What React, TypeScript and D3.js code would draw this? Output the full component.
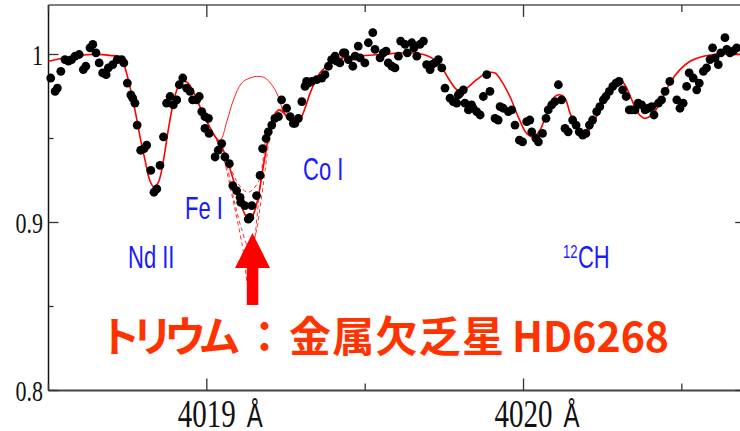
import React from 'react'
import * as d3 from 'd3'

// observed spectrum (wavelength Å, normalized flux)
const observed: [number, number][] = [
  [4018.507, 0.986], [4018.521, 0.978], [4018.528, 0.980], [4018.539, 0.990], [4018.552, 0.997],
  [4018.563, 0.996], [4018.573, 0.997], [4018.584, 0.999], [4018.597, 1.000], [4018.610, 0.991],
  [4018.618, 0.993], [4018.631, 1.004], [4018.640, 1.006], [4018.650, 1.001], [4018.660, 0.995],
  [4018.671, 0.989], [4018.682, 0.988], [4018.689, 0.992], [4018.703, 0.994], [4018.717, 0.997],
  [4018.731, 0.997], [4018.738, 0.995], [4018.749, 0.983], [4018.760, 0.976], [4018.766, 0.974],
  [4018.773, 0.971], [4018.780, 0.958], [4018.791, 0.943], [4018.802, 0.944], [4018.810, 0.946],
  [4018.823, 0.931], [4018.833, 0.918], [4018.842, 0.920], [4018.852, 0.934], [4018.863, 0.951],
  [4018.873, 0.971], [4018.884, 0.975], [4018.894, 0.970], [4018.905, 0.973], [4018.913, 0.982],
  [4018.924, 0.986], [4018.936, 0.980], [4018.947, 0.978], [4018.955, 0.973], [4018.968, 0.973],
  [4018.976, 0.975], [4018.984, 0.966], [4018.994, 0.963], [4019.005, 0.962], [4018.994, 0.956],
  [4019.007, 0.953], [4019.026, 0.939], [4019.036, 0.943], [4019.047, 0.947], [4019.057, 0.939],
  [4019.071, 0.935], [4019.082, 0.922], [4019.094, 0.919], [4019.105, 0.915], [4019.107, 0.912],
  [4019.120, 0.910], [4019.131, 0.902], [4019.136, 0.903], [4019.142, 0.910], [4019.157, 0.916],
  [4019.168, 0.928], [4019.176, 0.944], [4019.187, 0.950], [4019.194, 0.954], [4019.205, 0.958],
  [4019.215, 0.962], [4019.226, 0.963], [4019.236, 0.973], [4019.252, 0.968], [4019.263, 0.963],
  [4019.273, 0.959], [4019.278, 0.959], [4019.289, 0.962], [4019.300, 0.972], [4019.310, 0.981],
  [4019.315, 0.984], [4019.320, 0.983], [4019.331, 0.984], [4019.347, 0.985], [4019.363, 0.986],
  [4019.373, 0.988], [4019.384, 0.993], [4019.394, 0.997], [4019.405, 0.999], [4019.410, 0.996],
  [4019.420, 0.995], [4019.431, 1.001], [4019.436, 1.001], [4019.447, 0.997], [4019.461, 0.993],
  [4019.468, 0.999], [4019.478, 1.005], [4019.484, 0.998], [4019.499, 0.995], [4019.510, 1.007],
  [4019.524, 1.013], [4019.531, 1.003], [4019.547, 0.998], [4019.557, 1.001], [4019.566, 1.002],
  [4019.573, 0.995], [4019.584, 0.993], [4019.594, 0.992], [4019.605, 0.999], [4019.612, 1.008],
  [4019.626, 1.006], [4019.633, 1.001], [4019.647, 1.007], [4019.654, 1.004], [4019.663, 0.999],
  [4019.673, 1.006], [4019.684, 1.008], [4019.694, 0.994], [4019.705, 0.991], [4019.710, 0.994],
  [4019.720, 0.995], [4019.731, 0.997], [4019.742, 0.992], [4019.752, 0.980], [4019.768, 0.974],
  [4019.778, 0.972], [4019.789, 0.971], [4019.794, 0.976], [4019.799, 0.977], [4019.810, 0.979],
  [4019.815, 0.971], [4019.826, 0.967], [4019.836, 0.970], [4019.841, 0.968], [4019.852, 0.966],
  [4019.863, 0.964], [4019.873, 0.975], [4019.884, 0.988], [4019.894, 0.978], [4019.910, 0.962],
  [4019.920, 0.961], [4019.926, 0.969], [4019.936, 0.968], [4019.952, 0.966], [4019.963, 0.967],
  [4019.973, 0.958], [4019.987, 0.949], [4019.997, 0.948], [4020.010, 0.960], [4020.020, 0.961],
  [4020.026, 0.954], [4020.039, 0.950], [4020.047, 0.948], [4020.060, 0.953], [4020.071, 0.962],
  [4020.078, 0.967], [4020.089, 0.970], [4020.099, 0.972], [4020.110, 0.982], [4020.120, 0.973],
  [4020.131, 0.956], [4020.141, 0.954], [4020.155, 0.961], [4020.166, 0.958], [4020.176, 0.954],
  [4020.187, 0.952], [4020.197, 0.953], [4020.208, 0.958], [4020.218, 0.961], [4020.231, 0.966],
  [4020.241, 0.969], [4020.252, 0.973], [4020.260, 0.975], [4020.271, 0.978], [4020.282, 0.981],
  [4020.292, 0.983], [4020.302, 0.984], [4020.313, 0.979], [4020.324, 0.975], [4020.334, 0.967],
  [4020.342, 0.967], [4020.352, 0.967], [4020.362, 0.971], [4020.373, 0.970], [4020.384, 0.967],
  [4020.394, 0.968], [4020.405, 0.969], [4020.412, 0.964], [4020.426, 0.971], [4020.436, 0.973],
  [4020.447, 0.978], [4020.462, 0.984], [4020.484, 0.973], [4020.494, 0.968], [4020.504, 0.971],
  [4020.515, 0.981], [4020.523, 0.989], [4020.536, 0.986], [4020.547, 0.979], [4020.555, 0.983],
  [4020.568, 0.990], [4020.578, 0.992], [4020.589, 0.997], [4020.597, 1.004], [4020.605, 0.998],
  [4020.615, 0.994], [4020.623, 1.001], [4020.636, 1.010], [4020.642, 1.003], [4020.652, 1.001],
  [4020.662, 1.002], [4020.673, 1.004],
]

// best-fit synthetic spectrum
const synthetic: [number, number][] = [
  [4018.500, 0.996], [4018.568, 0.9985], [4018.631, 1.000], [4018.694, 0.9995], [4018.731, 0.998],
  [4018.742, 0.992], [4018.757, 0.981], [4018.773, 0.967], [4018.789, 0.951], [4018.805, 0.937],
  [4018.820, 0.925], [4018.833, 0.921], [4018.847, 0.924], [4018.863, 0.937], [4018.878, 0.955],
  [4018.894, 0.971], [4018.910, 0.981], [4018.926, 0.984], [4018.941, 0.983], [4018.957, 0.978],
  [4018.978, 0.969], [4019.000, 0.960], [4019.020, 0.953], [4019.052, 0.943], [4019.073, 0.932],
  [4019.094, 0.919], [4019.115, 0.907], [4019.131, 0.902], [4019.147, 0.905], [4019.162, 0.915],
  [4019.178, 0.933], [4019.189, 0.945], [4019.199, 0.957], [4019.210, 0.963], [4019.226, 0.967],
  [4019.241, 0.966], [4019.252, 0.963], [4019.268, 0.960], [4019.278, 0.958], [4019.294, 0.961],
  [4019.310, 0.968], [4019.326, 0.977], [4019.342, 0.984], [4019.357, 0.989], [4019.378, 0.993],
  [4019.399, 0.997], [4019.431, 0.998], [4019.473, 0.999], [4019.547, 1.000], [4019.641, 1.001],
  [4019.684, 1.000], [4019.710, 0.998], [4019.736, 0.994], [4019.762, 0.986], [4019.784, 0.980],
  [4019.799, 0.978], [4019.821, 0.980], [4019.852, 0.985], [4019.884, 0.989], [4019.910, 0.989],
  [4019.931, 0.984], [4019.957, 0.975], [4019.983, 0.963], [4020.010, 0.953], [4020.031, 0.951],
  [4020.052, 0.955], [4020.073, 0.965], [4020.099, 0.975], [4020.115, 0.976], [4020.131, 0.974],
  [4020.147, 0.965], [4020.168, 0.957], [4020.191, 0.952], [4020.210, 0.956], [4020.241, 0.967],
  [4020.273, 0.979], [4020.299, 0.986], [4020.320, 0.982], [4020.342, 0.973], [4020.362, 0.965],
  [4020.384, 0.962], [4020.410, 0.965], [4020.436, 0.973], [4020.462, 0.983], [4020.494, 0.991],
  [4020.526, 0.996], [4020.568, 0.999], [4020.610, 1.000], [4020.700, 1.000],
]

// synthetic without Th
const noThorium: [number, number][] = [
  [4019.000, 0.960], [4019.020, 0.953], [4019.042, 0.949], [4019.063, 0.960], [4019.084, 0.973],
  [4019.110, 0.983], [4019.136, 0.986], [4019.162, 0.987], [4019.184, 0.986], [4019.205, 0.982],
  [4019.221, 0.977], [4019.231, 0.972], [4019.241, 0.966], [4019.252, 0.963], [4019.268, 0.960],
]

// Th abundance variants (dashed)
const thLow: [number, number][] = [
  [4019.000, 0.960], [4019.020, 0.953], [4019.052, 0.944], [4019.099, 0.923], [4019.131, 0.918],
  [4019.162, 0.924], [4019.184, 0.941], [4019.199, 0.954], [4019.215, 0.962], [4019.231, 0.967],
  [4019.252, 0.963], [4019.268, 0.960],
]
const thHigh: [number, number][] = [
  [4019.000, 0.960], [4019.020, 0.953], [4019.052, 0.942], [4019.084, 0.915], [4019.110, 0.896],
  [4019.131, 0.886], [4019.152, 0.892], [4019.168, 0.909], [4019.184, 0.931], [4019.199, 0.951],
  [4019.215, 0.961], [4019.231, 0.966], [4019.252, 0.963], [4019.268, 0.960],
]
const thHigher: [number, number][] = [
  [4019.000, 0.960], [4019.020, 0.953], [4019.048, 0.941], [4019.083, 0.913], [4019.114, 0.884],
  [4019.130, 0.863], [4019.146, 0.881], [4019.162, 0.910], [4019.177, 0.937], [4019.196, 0.958],
  [4019.215, 0.963], [4019.234, 0.966], [4019.252, 0.963], [4019.268, 0.960],
]

const yMajor = [0.8, 0.9, 1.0]
const yMinor = [0.85, 0.95]
const yLabels = ['0.8', '0.9', '1']
const xMajor = [4019, 4020]
const xMinor = [4018.5, 4019.5, 4020.5]

const W = 740
const H = 431

export default function App() {
  const x = d3.scaleLinear().domain([4018.5, 4020.7]).range([48.5, 745.2])
  const y = d3.scaleLinear().domain([0.8, 1.0]).range([390.5, 54.5])
  const top = y(1.0295)
  const bottom = y(0.8)
  const left = x(4018.5)
  const right = x(4020.7)

  const line = d3.line<[number, number]>()
    .x(d => x(d[0]))
    .y(d => y(d[1]))
    .curve(d3.curveCatmullRom.alpha(0.5))

  const serif = '"Liberation Serif", "Times New Roman", serif'
  const sans = '"Liberation Sans", Arial, sans-serif'
  const blue = '#1a1aff'

  return (
    <svg width={W} height={H} style={{ position: 'fixed', left: 0, top: 0, background: '#fff' }}>
      <rect width={W} height={H} fill="#fff" />

      {/* frame */}
      <line x1={left} x2={right} y1={top} y2={top} stroke="#555" strokeWidth={1.5} />
      <line x1={left} x2={right} y1={bottom} y2={bottom} stroke="#444" strokeWidth={2} />
      <line x1={left} x2={left} y1={top} y2={bottom} stroke="#111" strokeWidth={1.5} />
      <line x1={right} x2={right} y1={top} y2={bottom} stroke="#444" strokeWidth={1.5} />

      {/* y ticks */}
      {yMajor.map(v => (
        <g key={'ym' + v}>
          <line x1={left} x2={left + 10} y1={y(v)} y2={y(v)} stroke="#333" strokeWidth={1.3} />
          <line x1={right - 10} x2={right} y1={y(v)} y2={y(v)} stroke="#333" strokeWidth={1.3} />
        </g>
      ))}
      {yMinor.map(v => (
        <g key={'yn' + v}>
          <line x1={left} x2={left + 5} y1={y(v)} y2={y(v)} stroke="#333" strokeWidth={1.3} />
          <line x1={right - 5} x2={right} y1={y(v)} y2={y(v)} stroke="#333" strokeWidth={1.3} />
        </g>
      ))}
      {yMajor.map((v, i) => (
        <g key={'yl' + v} transform={`translate(43,${y(v) + 10}) scale(1,1.3)`}>
          <text textAnchor="end" fontFamily={serif} fontSize={22} fill="#111">{yLabels[i]}</text>
        </g>
      ))}

      {/* x ticks */}
      {xMajor.map(v => (
        <g key={'xm' + v}>
          <line x1={x(v)} x2={x(v)} y1={bottom} y2={bottom - 12} stroke="#333" strokeWidth={1.3} />
          <line x1={x(v)} x2={x(v)} y1={top} y2={top + 12} stroke="#333" strokeWidth={1.3} />
        </g>
      ))}
      {xMinor.map(v => (
        <g key={'xn' + v}>
          <line x1={x(v)} x2={x(v)} y1={bottom} y2={bottom - 7} stroke="#333" strokeWidth={1.3} />
          <line x1={x(v)} x2={x(v)} y1={top} y2={top + 7} stroke="#333" strokeWidth={1.3} />
        </g>
      ))}
      {xMajor.map(v => (
        <g key={'xl' + v} transform={`translate(${x(v)},427) scale(1,1.38)`}>
          <text textAnchor="middle" fontFamily={serif} fontSize={29} fill="#111">{String(v)}</text>
          <text x={40} fontFamily={sans} fontSize={24} fill="#111">Å</text>
        </g>
      ))}

      {/* synthetic spectra */}
      <path d={line(noThorium) ?? ''} fill="none" stroke="#ff2020" strokeWidth={1} />
      <path d={line(thLow) ?? ''} fill="none" stroke="#ff3030" strokeWidth={1} strokeDasharray="4,3" />
      <path d={line(thHigh) ?? ''} fill="none" stroke="#ff3030" strokeWidth={1} strokeDasharray="4,3" />
      <path d={line(thHigher) ?? ''} fill="none" stroke="#ff3030" strokeWidth={1} strokeDasharray="4,3" />
      <path d={line(synthetic) ?? ''} fill="none" stroke="#ff0000" strokeWidth={1.6} />

      {/* observed */}
      {observed.map((d, i) => (
        <circle key={i} cx={x(d[0])} cy={y(d[1])} r={4.4} fill="#000" />
      ))}

      {/* line identifications */}
      <g fontFamily={sans} fontSize={22} fill={blue}>
        <g transform="translate(128,268) scale(1,1.4)"><text>Nd II</text></g>
        <g transform="translate(185,219) scale(1,1.4)"><text>Fe I</text></g>
        <g transform="translate(303,180) scale(1,1.4)"><text>Co I</text></g>
        <g transform="translate(563,268) scale(1,1.4)">
          <text y={-7} fontSize={13}>12</text>
          <text x={15}>CH</text>
        </g>
      </g>

      {/* arrow */}
      <path d="M252.5,233 L270,268 L258.3,268 L258.3,305 L246.8,305 L246.8,268 L235,268 Z" fill="#ff0000" />

      {/* caption */}
      <g fontFamily='"Noto Sans CJK JP", sans-serif' fontWeight={700} fontSize={42} fill="#ff3300">
        <text x={103} y={352} textLength={136} lengthAdjust="spacing" style={{ fontFeatureSettings: '"palt"' }}>トリウム</text>
        <text x={264.5} y={352} textAnchor="middle">：</text>
        <text x={289} y={352} textLength={215} lengthAdjust="spacing">金属欠乏星</text>
        <text x={512} y={352} textLength={157} lengthAdjust="spacingAndGlyphs">HD6268</text>
      </g>
    </svg>
  )
}
